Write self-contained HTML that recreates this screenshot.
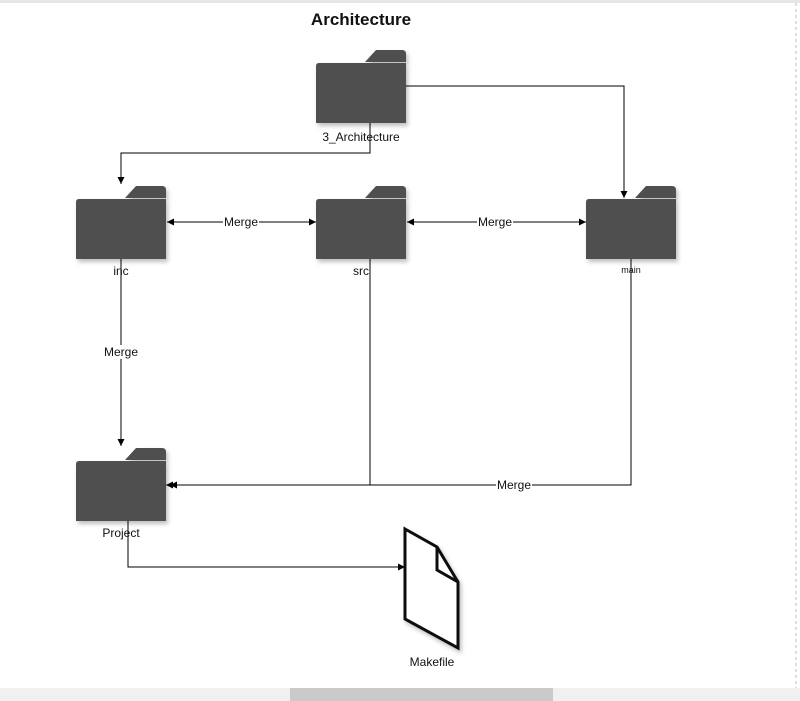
<!DOCTYPE html>
<html><head><style>
html,body{margin:0;padding:0;background:#fff;width:800px;height:701px;overflow:hidden}
text{font-family:"Liberation Sans",Arial,sans-serif;font-size:12px;fill:#111}
</style></head><body>
<svg width="800" height="701" viewBox="0 0 800 701" xmlns="http://www.w3.org/2000/svg">
<defs>
<filter id="sh" x="-20%" y="-20%" width="150%" height="150%"><feDropShadow dx="2" dy="3" stdDeviation="2" flood-color="#000" flood-opacity="0.25"/></filter>
<marker id="a" markerWidth="8" markerHeight="8" refX="7" refY="4" orient="auto" markerUnits="userSpaceOnUse"><path d="M0,0.5 L7,4 L0,7.5 Z" fill="#000"/></marker>
<marker id="as" markerWidth="8" markerHeight="8" refX="1" refY="4" orient="auto" markerUnits="userSpaceOnUse"><path d="M8,0.5 L1,4 L8,7.5 Z" fill="#000"/></marker>
<g id="f" filter="url(#sh)" fill="#505050">
<path d="M49,14 L60,2 L86,2 Q90,2 90,6 L90,14 Z"/>
<path d="M3,15 L90,15 L90,75 L0,75 L0,18 Q0,15 3,15 Z"/>
</g>
</defs>
<rect x="0" y="0" width="800" height="3" fill="#e6e6e6"/>
<line x1="796" y1="3" x2="796" y2="688" stroke="#bbb" stroke-dasharray="3,3"/>
<text x="361" y="25" text-anchor="middle" style="font-size:17px;font-weight:bold">Architecture</text>
<use href="#f" x="316" y="48"/>
<use href="#f" x="76" y="184"/>
<use href="#f" x="316" y="184"/>
<use href="#f" x="586" y="184"/>
<use href="#f" x="76" y="446"/>
<g fill="none" stroke="#000" stroke-width="1">
<path d="M370,123 V153 H121 V184" marker-end="url(#a)"/>
<path d="M406,86 H624 V198" marker-end="url(#a)"/>
<path d="M167,222 H316" marker-start="url(#as)" marker-end="url(#a)"/>
<path d="M407,222 H586" marker-start="url(#as)" marker-end="url(#a)"/>
<path d="M121,259 V446" marker-end="url(#a)"/>
<path d="M370,259 V485 H166" marker-end="url(#a)"/>
<path d="M631,259 V485 H170" marker-end="url(#a)"/>
<path d="M128,521 V567 H405" marker-end="url(#a)"/>
</g>
<g filter="url(#sh)" fill="#fff" stroke="#111" stroke-width="3" stroke-linejoin="miter">
<path d="M405,529 L437,547 L458,582 L458,648 L405,619 Z"/>
<path d="M437,547 L437,570 L458,582" fill="none"/>
</g>
<g>
<rect x="223" y="215" width="36" height="14" fill="#fff"/><text x="241" y="226" text-anchor="middle">Merge</text>
<rect x="477" y="215" width="36" height="14" fill="#fff"/><text x="495" y="226" text-anchor="middle">Merge</text>
<rect x="103" y="345" width="36" height="14" fill="#fff"/><text x="121" y="356" text-anchor="middle">Merge</text>
<rect x="496" y="478" width="36" height="14" fill="#fff"/><text x="514" y="489" text-anchor="middle">Merge</text>
<rect x="322" y="130" width="78" height="14" fill="#fff"/>
<line x1="370" y1="123" x2="370" y2="153" stroke="#000"/>
<text x="361" y="141" text-anchor="middle">3_Architecture</text>
<text x="121" y="275" text-anchor="middle">inc</text>
<text x="361" y="275" text-anchor="middle">src</text>
<text x="631" y="273" text-anchor="middle" style="font-size:9px">main</text>
<text x="121" y="537" text-anchor="middle">Project</text>
<text x="432" y="666" text-anchor="middle">Makefile</text>
</g>
<rect x="0" y="688" width="800" height="13" fill="#f0f0f0"/>
<rect x="290" y="688" width="263" height="13" fill="#cacaca"/>
</svg>
</body></html>
